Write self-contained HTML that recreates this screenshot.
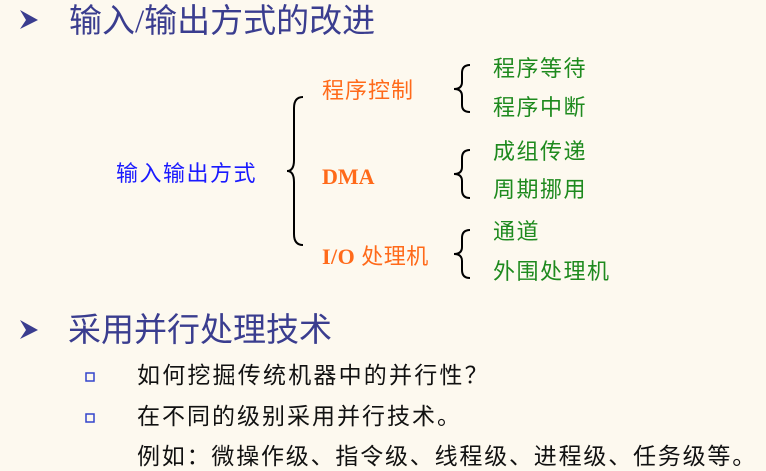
<!DOCTYPE html>
<html><head><meta charset="utf-8"><style>
body{margin:0;width:766px;height:471px;background:#fdf9ef;position:relative;overflow:hidden;font-family:"Liberation Serif","Noto Sans CJK SC",sans-serif}
.t{position:absolute;white-space:nowrap;line-height:1}
.h{color:#3a3d8f;font-size:33px}
.o{color:#ff6a1a;font-size:22px}
.g{color:#1e8a1e;font-size:22px}
.k{color:#111;font-size:23px}
</style></head><body>
<svg width="766" height="471" style="position:absolute;left:0;top:0">
<polygon points="20,10 38,20 20,29 26,20" fill="#3a3d8f"/>
<polygon points="20,320 38,330 20,339 26,330" fill="#3a3d8f"/>
<rect x="86" y="373" width="8" height="8" fill="none" stroke="#3344cc" stroke-width="1.5"/>
<rect x="86" y="414" width="8" height="8" fill="none" stroke="#3344cc" stroke-width="1.5"/>
<g fill="none" stroke="#000" stroke-width="2">
<path d="M303,97 Q294,97 294,108 L294,160 Q294,171 287,171 Q294,171 294,182 L294,234 Q294,245 303,245"/>
<path d="M470,65 Q462,65 462,73 L462,82 Q462,89 454,89 Q462,89 462,96 L462,105 Q462,112 470,112"/>
<path d="M470,150 Q462,150 462,158 L462,167 Q462,174 454,174 Q462,174 462,181 L462,190 Q462,198 470,198"/>
<path d="M470,230 Q462,230 462,238 L462,247 Q462,254 454,254 Q462,254 462,261 L462,270 Q462,278 470,278"/>
</g></svg>
<div class="t h" style="left:69px;top:6px">输入/输出方式的改进</div>
<div class="t h" style="left:68px;top:315px">采用并行处理技术</div>
<div class="t" style="left:116px;top:163px;color:#1a1aff;font-size:22px;letter-spacing:1.5px">输入输出方式</div>
<div class="t o" style="left:322px;top:80px;letter-spacing:1px">程序控制</div>
<div class="t o" style="left:322px;top:166px;font-weight:bold">DMA</div>
<div class="t o" style="left:322px;top:246px;letter-spacing:0.5px"><b>I/O</b> 处理机</div>
<div class="t g" style="left:493px;top:58px;letter-spacing:1.5px">程序等待</div>
<div class="t g" style="left:493px;top:97px;letter-spacing:1.5px">程序中断</div>
<div class="t g" style="left:493px;top:141px;letter-spacing:1.5px">成组传递</div>
<div class="t g" style="left:493px;top:179px;letter-spacing:1.5px">周期挪用</div>
<div class="t g" style="left:493px;top:221px;letter-spacing:1.5px">通道</div>
<div class="t g" style="left:493px;top:261px;letter-spacing:1.5px">外围处理机</div>
<div class="t k" style="left:137px;top:364px;letter-spacing:2.2px">如何挖掘传统机器中的并行性？</div>
<div class="t k" style="left:137px;top:405px;letter-spacing:2px">在不同的级别采用并行技术。</div>
<div class="t k" style="left:137px;top:445px;letter-spacing:1.8px">例如：微操作级、指令级、线程级、进程级、任务级等。</div>
</body></html>
